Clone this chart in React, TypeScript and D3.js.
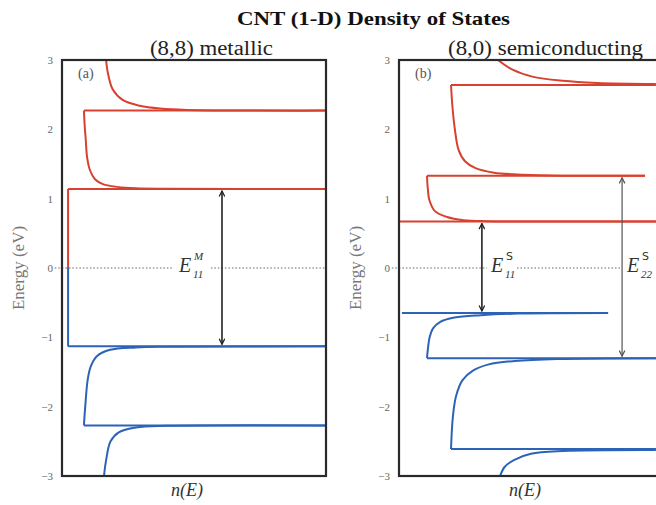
import React, { useEffect, useRef } from 'react';
import * as d3 from 'd3';

// ————— data (n in arbitrary units 0..100, E in eV) —————
const E_TICKS = [3, 2, 1, 0, -1, -2, -3];

// (a) (8,8) metallic
const aFloorRed: [number, number][] = [[2.3, 0], [2.3, 1.14]];
const aFloorBlue: [number, number][] = [[2.3, 0], [2.3, -1.13]];
// singularity lines: [E, nStart, nEnd]
const aRedLevels: [number, number, number][] = [[1.14, 2.3, 100], [2.27, 8.3, 100]];
const aBlueLevels: [number, number, number][] = [[-1.13, 2.3, 100], [-2.27, 8.3, 100]];
const aRedCurves: [number, number][][] = [
  [[100, 1.14], [40, 1.143], [28, 1.15], [21, 1.17], [15.5, 1.21], [12.5, 1.28], [10.6, 1.41], [9.5, 1.6], [9.0, 1.85], [8.6, 2.05], [8.3, 2.27]],
  [[100, 2.27], [47.3, 2.28], [37.1, 2.3], [29.5, 2.34], [23.1, 2.42], [19.3, 2.57], [17.4, 2.81], [16.7, 3.0]],
];
const aBlueCurves: [number, number][][] = [
  [[100, -1.13], [40, -1.135], [28, -1.145], [18.2, -1.18], [13.3, -1.27], [10.9, -1.42], [9.7, -1.62], [8.9, -1.95], [8.3, -2.27]],
  [[100, -2.27], [40, -2.276], [28, -2.3], [21.5, -2.37], [18.4, -2.5], [16.8, -2.75], [15.9, -3.0]],
];

// (b) (8,0) semiconducting
const bRedLevels: [number, number, number][] = [[0.67, 0, 100], [1.33, 10.6, 93.2], [2.64, 19.7, 100]];
const bBlueLevels: [number, number, number][] = [[-0.65, 1.1, 79.2], [-1.3, 10.6, 100], [-2.61, 19.7, 100]];
const bRedCurves: [number, number][][] = [
  [[100, 0.67], [50, 0.671], [33, 0.675], [24.5, 0.69], [18.2, 0.735], [13.6, 0.82], [11.5, 0.98], [10.9, 1.15], [10.6, 1.33]],
  [[93.2, 1.33], [62.1, 1.332], [47, 1.345], [36, 1.375], [29, 1.44], [25, 1.54], [22.6, 1.7], [21.2, 1.99], [20.3, 2.3], [19.7, 2.64]],
  [[97.3, 2.655], [75, 2.67], [62.1, 2.7], [50.5, 2.76], [43, 2.86], [37.5, 3.0]],
];
const bBlueCurves: [number, number][][] = [
  [[79.2, -0.65], [45, -0.658], [31, -0.68], [21, -0.715], [15.5, -0.78], [12.9, -0.87], [11.6, -1.0], [11, -1.15], [10.6, -1.3]],
  [[100, -1.3], [60, -1.312], [44, -1.34], [34, -1.39], [28, -1.48], [24, -1.62], [21.6, -1.85], [20.4, -2.15], [19.7, -2.61]],
  [[97.3, -2.625], [62.1, -2.64], [50, -2.68], [43.5, -2.77], [40, -2.87], [38.3, -3.0]],
];

// arrows: [n, Etop, Ebottom]
const aArrows: [number, number, number][] = [[60.6, 1.14, -1.13]];
const bArrows: [number, number, number][] = [[31.4, 0.67, -0.65], [84.5, 1.33, -1.3]];
// ————————————————————

const RED = '#d8412f';
const BLUE = '#2d63b7';
const SERIF = 'Liberation Serif, Times New Roman, serif';

export default function App() {
  const ref = useRef<SVGSVGElement>(null);

  useEffect(() => {
    const svg = d3.select(ref.current);
    svg.selectAll('*').remove();

    const y = d3.scaleLinear().domain([-3, 3]).range([476, 60]);

    const defs = svg.append('defs');
    [['headDark', '#222'], ['headGray', '#555']].forEach(([id, c]) => {
      defs.append('marker')
        .attr('id', id)
        .attr('viewBox', '0 0 10 10')
        .attr('refX', 9).attr('refY', 5)
        .attr('markerWidth', 7).attr('markerHeight', 7)
        .attr('markerUnits', 'userSpaceOnUse')
        .attr('orient', 'auto-start-reverse')
        .append('path')
        .attr('d', 'M1,1 L9,5 L1,9')
        .attr('fill', 'none')
        .attr('stroke', c)
        .attr('stroke-width', 1.8);
    });

    function drawPanel(opts: any) {
      const x = d3.scaleLinear().domain([0, 100]).range([opts.left, opts.left + 264]);
      const g = svg.append('g');

      // tick labels
      const ax = g.append('g')
        .attr('transform', `translate(${opts.left},0)`)
        .call(d3.axisLeft(y).tickValues(E_TICKS).tickSize(0).tickPadding(9).tickFormat(d3.format('d')));
      ax.select('.domain').remove();
      ax.attr('font-family', null).attr('font-size', null);
      ax.selectAll('text')
        .style('font-family', SERIF)
        .style('font-size', '11px')
        .attr('fill', '#666');

      // dotted Fermi level
      opts.dots.forEach(([a, b]: number[]) => {
        g.append('line')
          .attr('x1', x(a)).attr('x2', x(b))
          .attr('y1', y(0)).attr('y2', y(0))
          .attr('stroke', '#666')
          .attr('stroke-width', 1)
          .attr('stroke-dasharray', '1.5,2');
      });

      const line = d3.line<[number, number]>()
        .x(d => x(d[0]))
        .y(d => y(d[1]))
        .curve(d3.curveCatmullRom.alpha(0.5));

      const drawSet = (curves: [number, number][][], levels: [number, number, number][], floor: any, color: string) => {
        curves.forEach(c => {
          g.append('path')
            .attr('d', line(c))
            .attr('fill', 'none')
            .attr('stroke', color)
            .attr('stroke-width', 2);
        });
        levels.forEach(([e, n0, n1]) => {
          g.append('line')
            .attr('x1', x(n0)).attr('x2', x(n1))
            .attr('y1', y(e)).attr('y2', y(e))
            .attr('stroke', color)
            .attr('stroke-width', 2);
        });
        if (floor) {
          g.append('path')
            .attr('d', d3.line<[number, number]>().x(d => x(d[0])).y(d => y(d[1]))(floor))
            .attr('fill', 'none')
            .attr('stroke', color)
            .attr('stroke-width', 2);
        }
      };
      drawSet(opts.redCurves, opts.redLevels, opts.floorRed, RED);
      drawSet(opts.blueCurves, opts.blueLevels, opts.floorBlue, BLUE);

      // frame
      g.append('rect')
        .attr('x', opts.left).attr('y', 60)
        .attr('width', 264).attr('height', 416)
        .attr('fill', 'none')
        .attr('stroke', '#2a2a2a')
        .attr('stroke-width', 2.2);

      // arrows
      opts.arrows.forEach(([n, e0, e1]: number[], i: number) => {
        const gray = opts.grayArrow === i;
        g.append('line')
          .attr('x1', x(n)).attr('x2', x(n))
          .attr('y1', y(e0) + 2).attr('y2', y(e1) - 2)
          .attr('stroke', gray ? '#555' : '#222')
          .attr('stroke-width', gray ? 1.2 : 1.6)
          .attr('marker-start', `url(#${gray ? 'headGray' : 'headDark'})`)
          .attr('marker-end', `url(#${gray ? 'headGray' : 'headDark'})`);
      });

      // E labels
      opts.labels.forEach((l: any) => {
        g.append('text')
          .attr('x', l.x).attr('y', 272)
          .style('font-family', SERIF)
          .style('font-style', 'italic')
          .style('font-size', '20px')
          .attr('fill', '#333')
          .text('E');
        g.append('text')
          .attr('x', l.x + 15).attr('y', 260)
          .style('font-family', l.supSans ? 'DejaVu Sans, sans-serif' : SERIF)
          .style('font-style', l.supSans ? 'normal' : 'italic')
          .style('font-size', '11px')
          .attr('fill', '#333')
          .text(l.sup);
        g.append('text')
          .attr('x', l.x + 14).attr('y', 278)
          .style('font-family', SERIF)
          .style('font-style', 'italic')
          .style('font-size', '11px')
          .attr('fill', '#333')
          .text(l.sub);
      });

      // panel tag
      g.append('text')
        .attr('x', opts.left + 16).attr('y', 78)
        .style('font-family', SERIF)
        .style('font-size', '14px')
        .attr('fill', '#555')
        .text(opts.tag);

      // axis labels
      g.append('text')
        .attr('transform', `translate(${opts.left - 38},${y(0)}) rotate(-90)`)
        .attr('text-anchor', 'middle')
        .style('font-family', SERIF)
        .style('font-size', '17px')
        .attr('fill', '#777')
        .text('Energy (eV)');
      g.append('text')
        .attr('x', opts.nx).attr('y', 496)
        .attr('text-anchor', 'middle')
        .style('font-family', SERIF)
        .style('font-style', 'italic')
        .style('font-size', '18px')
        .attr('fill', '#333')
        .text('n(E)');

      // subtitle
      svg.append('text')
        .attr('x', opts.subX).attr('y', 55)
        .style('font-family', SERIF)
        .style('font-size', '20px')
        .attr('fill', '#222')
        .attr('textLength', opts.subW)
        .attr('lengthAdjust', 'spacingAndGlyphs')
        .text(opts.subtitle);
    }

    drawPanel({
      left: 62, tag: '(a)', subtitle: '(8,8) metallic', subX: 150, subW: 123, nx: 187,
      floorRed: aFloorRed, floorBlue: aFloorBlue,
      redLevels: aRedLevels, blueLevels: aBlueLevels,
      redCurves: aRedCurves, blueCurves: aBlueCurves,
      arrows: aArrows, grayArrow: -1,
      dots: [[-2.7, 42.4], [56.4, 100]],
      labels: [{ x: 179, sup: 'M', sub: '11' }],
    });
    drawPanel({
      left: 399, tag: '(b)', subtitle: '(8,0) semiconducting', subX: 448, subW: 195, nx: 525,
      floorRed: null, floorBlue: null,
      redLevels: bRedLevels, blueLevels: bBlueLevels,
      redCurves: bRedCurves, blueCurves: bBlueCurves,
      arrows: bArrows, grayArrow: 1,
      dots: [[-2.7, 33.3], [44.7, 83.7]],
      labels: [{ x: 491, sup: 'S', sub: '11', supSans: true }, { x: 627, sup: 'S', sub: '22', supSans: true }],
    });

    // Title
    svg.append('text')
      .attr('x', 237).attr('y', 25)
      .style('font-family', SERIF)
      .style('font-weight', 'bold')
      .style('font-size', '19px')
      .attr('fill', '#111')
      .attr('textLength', 273)
      .attr('lengthAdjust', 'spacingAndGlyphs')
      .text('CNT (1-D) Density of States');
  }, []);

  return (
    <svg
      ref={ref}
      width={656}
      height={505}
      style={{ position: 'absolute', left: 0, top: 0, background: '#fff' }}
    />
  );
}
